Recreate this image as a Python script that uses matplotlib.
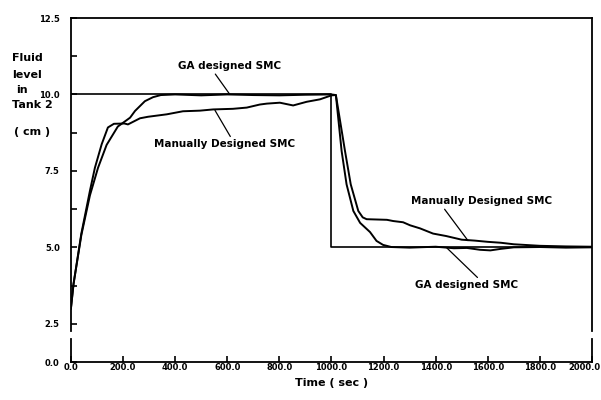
import matplotlib
matplotlib.use('Agg')
import matplotlib.pyplot as plt
import matplotlib.transforms as mtransforms
import numpy as np

plt.rcParams['font.family'] = 'DejaVu Sans'
plt.rcParams['font.weight'] = 'bold'

# setpoint (reference level)
ref_t = [0, 1000, 1000, 2000]
ref_v = [10.0, 10.0, 5.0, 5.0]

# GA designed SMC response
ga_t = [0, 10, 40, 73, 104, 137, 180, 227, 246, 284, 315, 345, 400, 500, 600,
        700, 800, 900, 1000, 1017, 1039, 1058, 1084, 1110, 1148, 1173, 1198,
        1230, 1300, 1400, 1470, 1520, 1570, 1610, 1650, 1700, 1800, 1900, 2000]
ga_v = [3.0, 3.8, 5.4, 6.7, 7.6, 8.35, 8.95, 9.24, 9.46, 9.78, 9.91, 9.98, 10.0,
        9.97, 10.0, 9.98, 9.97, 9.99, 10.0, 9.98, 8.15, 7.06, 6.19, 5.8, 5.5,
        5.21, 5.08, 5.01, 4.99, 5.02, 4.97, 4.98, 4.92, 4.9, 4.95, 5.0, 5.01,
        4.99, 5.0]

# manually designed SMC response
man_t = [0, 10, 40, 73, 92, 118, 142, 165, 205, 219, 265, 296, 368, 430, 495,
         546, 622, 675, 725, 752, 802, 853, 905, 956, 1000, 1017, 1052, 1074,
         1103, 1120, 1135, 1213, 1237, 1275, 1302, 1340, 1390, 1440, 1500, 1550,
         1600, 1650, 1700, 1800, 1900, 2000]
man_v = [3.0, 3.8, 5.45, 6.85, 7.6, 8.37, 8.92, 9.04, 9.05, 9.02, 9.22, 9.27,
         9.35, 9.45, 9.47, 9.51, 9.53, 9.57, 9.67, 9.7, 9.73, 9.64, 9.76, 9.84,
         9.97, 9.98, 8.15, 7.06, 6.19, 5.98, 5.92, 5.9, 5.86, 5.82, 5.72, 5.62,
         5.45, 5.37, 5.25, 5.22, 5.18, 5.15, 5.1, 5.05, 5.03, 5.02]

x_ticks = np.arange(0, 2001, 200)
x_labels = [f'{v:.1f}' for v in x_ticks]
y_ticks = [1.25, 2.5, 5.0, 7.5, 10.0, 12.5]
y_labels = ['0.0', '2.5', '5.0', '7.5', '10.0', '12.5']
y_minor = [3.75, 6.25, 8.75, 11.25]

# y-axis title, one entry per printed line
ylabel_lines = ['Fluid', 'level', 'in', 'Tank 2', '( cm )']

fig = plt.figure(figsize=(6.01, 4.0), dpi=100)
ax = fig.add_axes([0.118, 0.095, 0.867, 0.86])

ax.plot(ref_t, ref_v, color='black', linewidth=1.2)
ax.plot(ga_t, ga_v, color='black', linewidth=1.4)
ax.plot(man_t, man_v, color='black', linewidth=1.4)

ax.set_xlim(0, 2000)
ax.set_ylim(1.25, 12.5)
ax.set_xticks(x_ticks)
ax.set_xticklabels(x_labels, fontsize=6, fontweight='bold')
ax.set_yticks(y_ticks)
ax.set_yticklabels(y_labels, fontsize=6, fontweight='bold')
ax.set_yticks(y_minor, minor=True)
ax.tick_params(axis='both', which='both', direction='in', length=4, width=1.2)
ax.tick_params(axis='x', pad=1)
ax.tick_params(axis='y', pad=8)

# last x label would run off the right edge - nudge it left a bit
last = ax.get_xticklabels()[-1]
last.set_transform(last.get_transform() +
                   mtransforms.ScaledTranslation(-8 / 100, 0, fig.dpi_scale_trans))

# broken left/right axis between 0.0 and 2.5
for side in ['left', 'right']:
    ax.spines[side].set_bounds(2.25, 12.5)
    ax.spines[side].set_linewidth(1.3)
    xs = 0 if side == 'left' else 1
    ax.plot([xs, xs], [0, (1.99 - 1.25) / 11.25], transform=ax.transAxes,
            color='black', linewidth=1.3, clip_on=False)
for side in ['top', 'bottom']:
    ax.spines[side].set_linewidth(1.3)

ax.set_xlabel('Time ( sec )', fontsize=8, fontweight='bold', labelpad=4)

# stacked y title, placed line by line (pixel rows from the top of the figure)
ylabel_rows = [58, 75, 90, 105, 132]
ylabel_x = [12, 12, 16, 12, 14]
for txt, row, xpx in zip(ylabel_lines, ylabel_rows, ylabel_x):
    fig.text(xpx / 601, 1 - row / 400, txt, fontsize=8, fontweight='bold',
             ha='left', va='center')


def leader(rel):
    return dict(arrowstyle='-', color='black', linewidth=0.9,
                shrinkA=0, shrinkB=0, relpos=rel)


ax.annotate('GA designed SMC', xy=(610, 10.0), xytext=(610, 10.92),
            fontsize=7.5, fontweight='bold', ha='center', va='center',
            arrowprops=leader((0.34, 0.0)))
ax.annotate('Manually Designed SMC', xy=(553, 9.48), xytext=(591, 8.37),
            fontsize=7.5, fontweight='bold', ha='center', va='center',
            arrowprops=leader((0.55, 1.0)))
ax.annotate('Manually Designed SMC', xy=(1524, 5.22), xytext=(1578, 6.5),
            fontsize=7.5, fontweight='bold', ha='center', va='center',
            arrowprops=leader((0.22, 0.0)))
ax.annotate('GA designed SMC', xy=(1443, 4.98), xytext=(1520, 3.76),
            fontsize=7.5, fontweight='bold', ha='center', va='center',
            arrowprops=leader((0.63, 1.0)))

fig.savefig('out.png', dpi=100)
